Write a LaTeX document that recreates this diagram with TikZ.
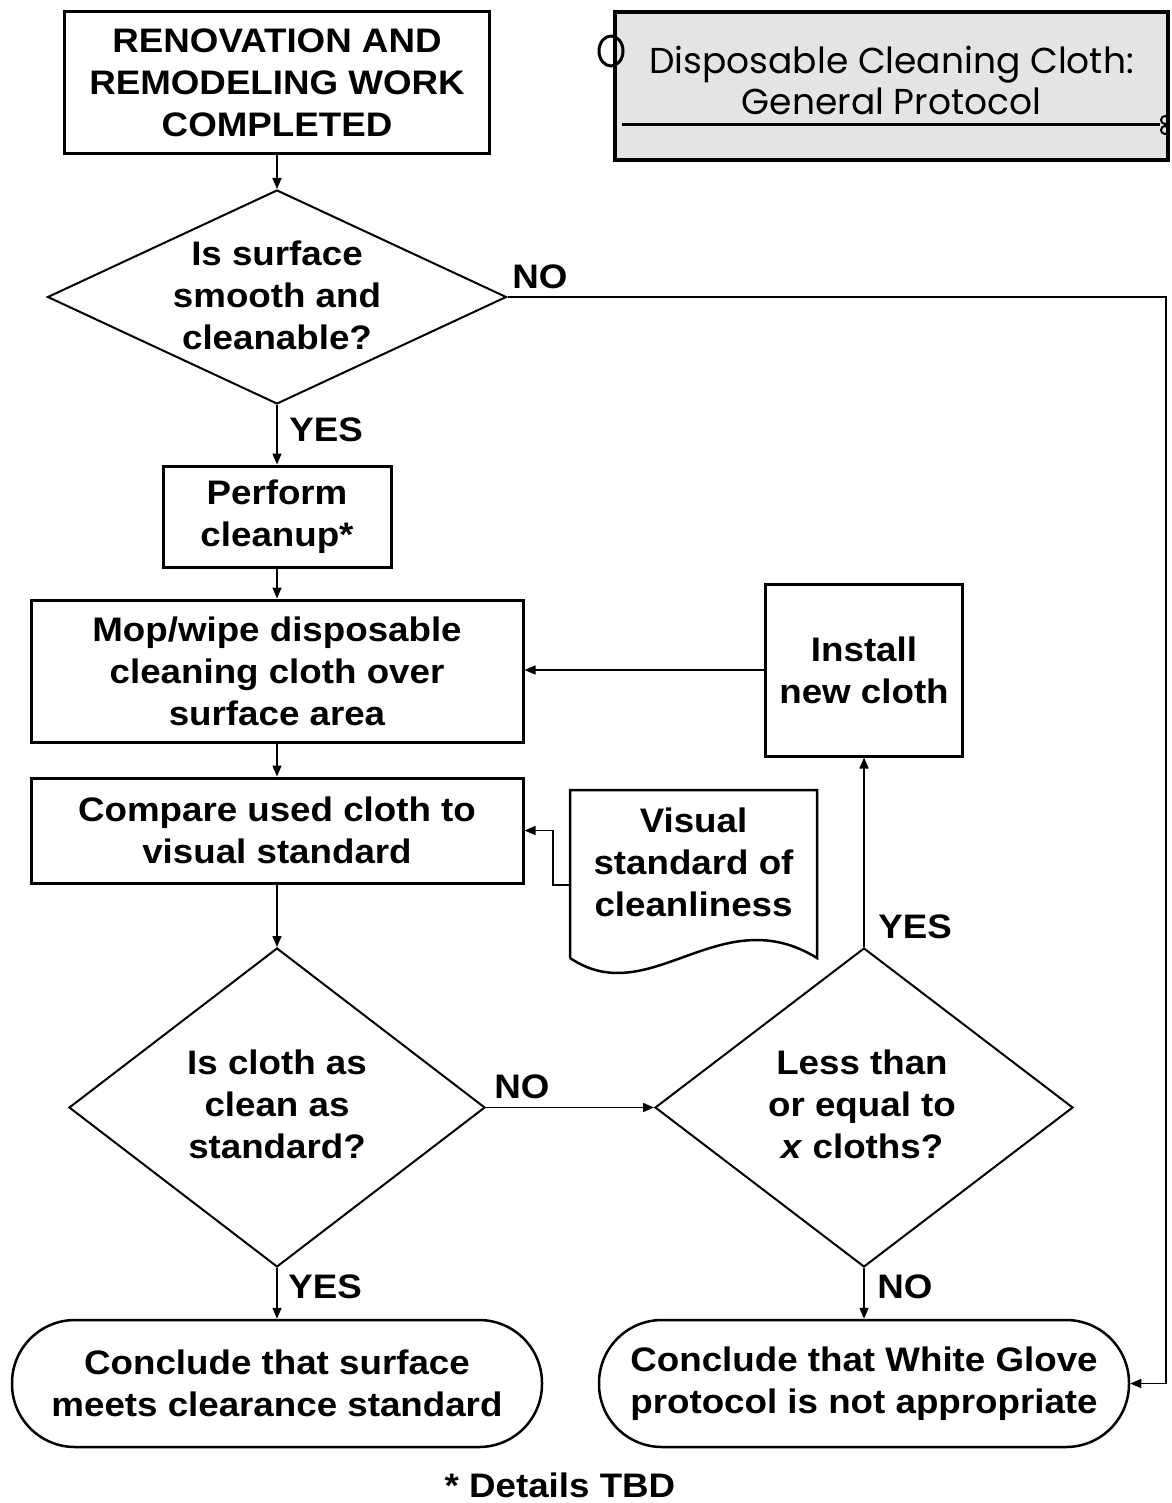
\documentclass[tikz,border=0pt]{standalone}
\usepackage{fontspec}
\setmainfont{Liberation Sans}[FakeStretch=1.08]
\newfontfamily\gothicfont{Poppins}
\usetikzlibrary{shapes.geometric,arrows.meta}

\definecolor{panelgray}{RGB}{228,228,228}
\newcommand\flowfont{\bfseries\fontsize{34}{42}\selectfont}

\tikzset{
  box/.style={draw, rectangle, line width=3pt, align=center, font=\flowfont},
  dia/.style={draw, diamond, line width=2pt, inner sep=0pt},
  qtext/.style={align=center, font=\flowfont},
  term/.style={draw, rectangle, line width=2.5pt, rounded corners=63pt, minimum width=530pt, minimum height=127pt, align=center, font=\flowfont},
  lbl/.style={font=\flowfont},
  arr/.style={line width=1.5pt, -{Triangle[length=11pt,width=9pt]}},
}

\begin{document}
\begin{tikzpicture}[x=1pt, y=-1pt]

\useasboundingbox (0,0) rectangle (1171,1503);

% title panel
\node[draw, line width=4pt, fill=panelgray, minimum width=553pt, minimum height=148pt] (title) at (891.5,86) {};
\node[align=center, font=\gothicfont\fontsize{36}{41}\selectfont] (titletext) at (891.5,80) {Disposable Cleaning Cloth:\\General Protocol};
\draw[line width=3pt] (622,125) -- (1160,125);
\draw[line width=3pt] (611,51) ellipse (12 and 15);
\draw[line width=2pt] (1165,120) circle (4);
\draw[line width=2pt] (1165,130) circle (4);

% main column
\node[box, minimum width=425pt, minimum height=142pt] (start) at (277,83) {RENOVATION AND\\REMODELING WORK\\COMPLETED};
\node[dia, minimum width=459pt, minimum height=214pt] (q1) at (277,297) {};
\node[qtext] at (277,295) {Is surface\\smooth and\\cleanable?};
\node[box, minimum width=228pt, minimum height=101pt] (clean) at (277,516.5) {Perform\\cleanup*};
\node[box, minimum width=492pt, minimum height=142pt] (mop) at (277,671) {Mop/wipe disposable\\cleaning cloth over\\surface area};
\node[box, minimum width=492pt, minimum height=105pt] (cmp) at (277,830.5) {Compare used cloth to\\visual standard};
\node[dia, minimum width=416pt, minimum height=319pt] (q2) at (277,1107.5) {};
\node[qtext] at (277,1104) {Is cloth as\\clean as\\standard?};
\node[term] (pass) at (277,1383.5) {Conclude that surface\\meets clearance standard};

% right column
\node[box, minimum width=197pt, minimum height=172pt] (inst) at (864,670) {Install\\new cloth};
\node[minimum width=247pt, minimum height=168pt] (doc) at (693.5,874) {};
\node[qtext] at (693.5,862) {Visual\\standard of\\cleanliness};
\draw[line width=2.5pt] (570,958) -- (570,790) -- (817,790) -- (817,958)
  .. controls (720,898) and (650,1012) .. (570,958);
\node[dia, minimum width=418pt, minimum height=319pt] (q3) at (864,1107.5) {};
\node[qtext] at (862,1104) {Less than\\or equal to\\\textit{x} cloths?};
\node[term] (fail) at (864,1383.5) {Conclude that White Glove\\protocol is not appropriate};

\node[lbl] at (560,1485) {* Details TBD};

% branch labels
\node[lbl] at (326,430) {YES};
\node[lbl] at (540,277) {NO};
\node[lbl] at (522,1087) {NO};
\node[lbl] at (325,1287) {YES};
\node[lbl] at (905,1287) {NO};
\node[lbl] at (915,927) {YES};

\coordinate (edge) at (1166,297);

\begin{scope}[arr]
\draw (start.south) -- (q1.north);
\draw (q1.south) -- (clean.north);
\draw (clean.south) -- (mop.north);
\draw (mop.south) -- (cmp.north);
\draw (cmp.south) -- (q2.north);
\draw (q2.east) -- (q3.west); %no
\draw (q2.south) -- (pass.north); %yes
\draw (q3.north) -- (inst.south); %yes
\draw (q3.south) -- (fail.north); %no
\draw (inst.west) -- (inst.west -| mop.east);
\draw (doc.185) -- ++(-17,0) |- (cmp.east);
\draw (q1.east) -- (edge) |- (fail.east); %no
\end{scope}

\end{tikzpicture}
\end{document}
